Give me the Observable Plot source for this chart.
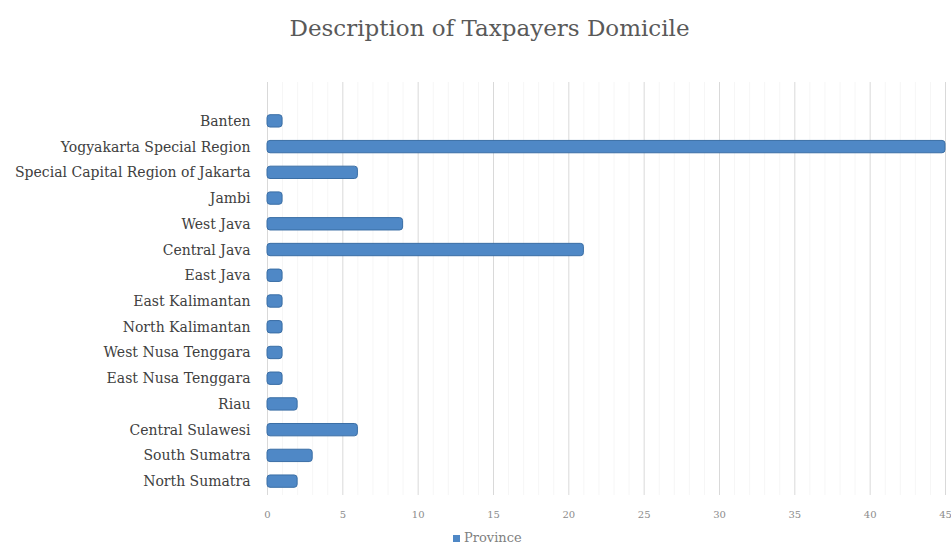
<!DOCTYPE html>
<html>
<head>
<meta charset="utf-8">
<script src="https://cdn.jsdelivr.net/npm/d3@7"></script>
<script src="https://cdn.jsdelivr.net/npm/@observablehq/plot@0.6"></script>
<style>
  html, body { margin: 0; padding: 0; background: #fff; }
  #wrap { width: 951px; font-family: "DejaVu Serif", "Liberation Serif", serif; }
  #title { height: 60px; line-height: 56px; text-align: center; font-size: 23px; color: #595959; padding-left: 28px; box-sizing: border-box; }
  #legend { height: 15px; font-size: 13px; color: #7f7f7f; text-align: left; padding-left: 453px; line-height: 15px; }
  #legend span.sw { display: inline-block; width: 7px; height: 7px; background: #4f88c6; margin-right: 4px; vertical-align: 0px; }
</style>
</head>
<body>
<div id="wrap">
  <div id="title">Description of Taxpayers Domicile</div>
  <div id="chart"></div>
  <div id="legend"><span class="sw"></span>Province</div>
</div>
<script>
const provinces = [
  "Banten",
  "Yogyakarta Special Region",
  "Special Capital Region of Jakarta",
  "Jambi",
  "West Java",
  "Central Java",
  "East Java",
  "East Kalimantan",
  "North Kalimantan",
  "West Nusa Tenggara",
  "East Nusa Tenggara",
  "Riau",
  "Central Sulawesi",
  "South Sumatra",
  "North Sumatra"
];
const counts = [1, 45, 6, 1, 9, 21, 1, 1, 1, 1, 1, 2, 6, 3, 2];
const xTicks = [0, 5, 10, 15, 20, 25, 30, 35, 40, 45];
const minorTicks = d3.range(0, 46).filter(v => v % 5 !== 0);
const seriesName = "Province";

const data = provinces.map((p, i) => ({province: p, value: counts[i]}));

const chart = Plot.plot({
  width: 951,
  height: 470,
  marginTop: 22,
  marginBottom: 35,
  marginLeft: 267,
  marginRight: 6,
  style: { fontFamily: "'DejaVu Serif', 'Liberation Serif', serif", background: "#fff", overflow: "visible" },
  x: { domain: [0, 45], ticks: xTicks },
  y: { domain: provinces, range: [48, 434], round: false, paddingInner: 0.52, paddingOuter: 0.26 },
  marks: [
    Plot.gridX(minorTicks, { stroke: "#f6f6f6", strokeOpacity: 1 }),
    Plot.gridX(xTicks, { stroke: "#d9d9d9", strokeOpacity: 1 }),
    Plot.barX(data, { x: "value", y: "province", fill: "#4f88c6", stroke: "#3a6ea5", strokeWidth: 1, rx: 3, title: d => `${seriesName}: ${d.value}` }),
    Plot.axisX({ ticks: xTicks, tickSize: 0, tickPadding: 15, fontSize: 10, fill: "#8c8c8c", label: null }),
    Plot.axisY({ tickSize: 0, tickPadding: 17, fontSize: 14, fill: "#404040", label: null })
  ]
});
document.getElementById("chart").appendChild(chart);
</script>
</body>
</html>
